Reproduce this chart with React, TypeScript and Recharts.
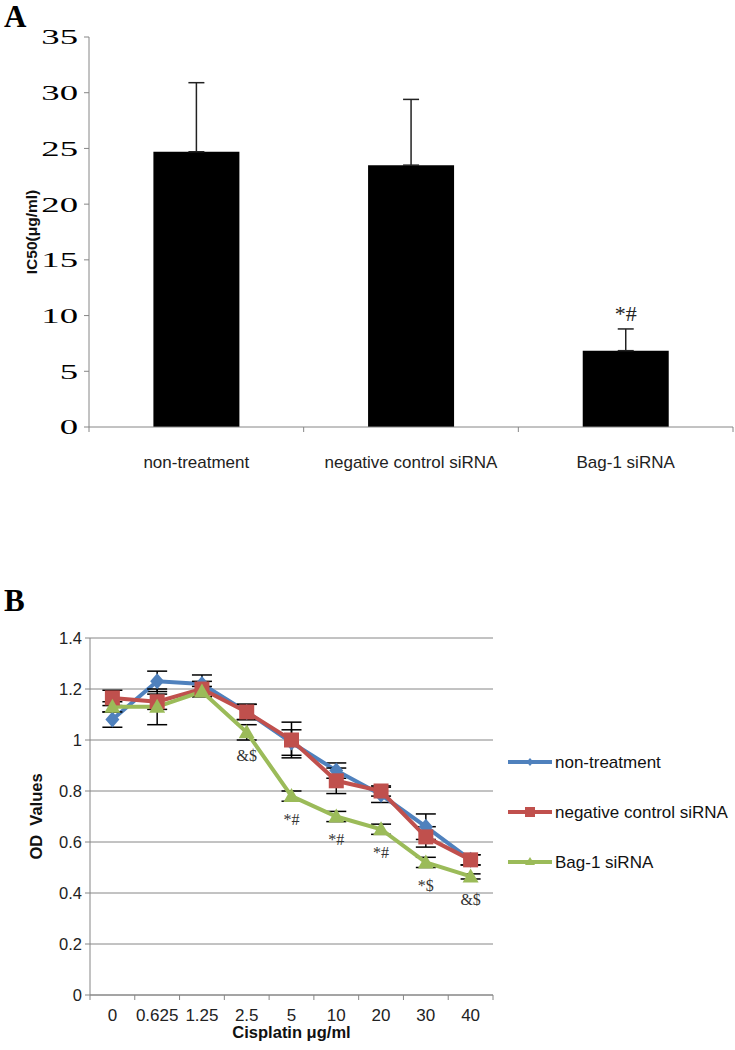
import React from "react";
import {
  BarChart, Bar, LineChart, Line, XAxis, YAxis, CartesianGrid, ErrorBar,
  LabelList, Legend, Label,
} from "recharts";

// ---------- Panel A data ----------
const categoriesA = ["non-treatment", "negative control siRNA", "Bag-1 siRNA"];
const ic50 = [24.7, 23.5, 6.85];
const ic50Err = [6.2, 5.9, 1.95];
const notesA = ["", "", "*#"];
const ticksA = [0, 5, 10, 15, 20, 25, 30, 35];

// ---------- Panel B data ----------
const doses = ["0", "0.625", "1.25", "2.5", "5", "10", "20", "30", "40"];
const nonTreatment = [1.08, 1.23, 1.22, 1.11, 0.99, 0.88, 0.785, 0.66, 0.53];
const negControl = [1.165, 1.15, 1.2, 1.11, 1.0, 0.84, 0.8, 0.62, 0.53];
const bag1 = [1.13, 1.13, 1.19, 1.03, 0.78, 0.7, 0.65, 0.52, 0.465];
const nonTreatmentErr = [0.03, 0.04, 0.035, 0.03, 0.05, 0.03, 0.03, 0.05, 0.02];
const negControlErr = [0.03, 0.03, 0.03, 0.03, 0.07, 0.05, 0.02, 0.04, 0.02];
const bag1Err = [0.02, 0.07, 0.02, 0.03, 0.02, 0.02, 0.02, 0.02, 0.01];
const notesB = ["", "", "", "&$", "*#", "*#", "*#", "*$", "&$"];
const ticksB = [0, 0.2, 0.4, 0.6, 0.8, 1, 1.2, 1.4];
const seriesNames = ["non-treatment", "negative control siRNA", "Bag-1 siRNA"];

const BLUE = "#4F81BD";
const RED = "#C0504D";
const GREEN = "#9BBB59";
const AXIS = "#868686";
const SANS = "'Liberation Sans', Arial, sans-serif";
const SERIF = "'Liberation Serif', 'Times New Roman', serif";

const dataA = categoriesA.map((c, i) => ({
  name: c, value: ic50[i], err: [0, ic50Err[i]], note: notesA[i],
}));

const dataB = doses.map((d, i) => ({
  dose: d,
  nt: nonTreatment[i], ntErr: nonTreatmentErr[i],
  nc: negControl[i], ncErr: negControlErr[i],
  bg: bag1[i], bgErr: bag1Err[i],
  note: notesB[i],
}));

// Category tick with tick marks at category boundaries (Excel style)
const makeBoundaryTick = (fontSize: number, labelDy: number, fill: string) => (props: any) => {
  const { x, y, payload, index, visibleTicksCount } = props;
  const off = payload && payload.offset ? payload.offset : 0;
  const last = index === visibleTicksCount - 1;
  return (
    <g>
      <line x1={x - off} x2={x - off} y1={y} y2={y + 5} stroke={AXIS} strokeWidth={1} />
      {last && <line x1={x + off} x2={x + off} y1={y} y2={y + 5} stroke={AXIS} strokeWidth={1} />}
      <text x={x} y={y + labelDy} textAnchor="middle" dominantBaseline="central"
        fontFamily={SANS} fontSize={fontSize} fill={fill}>
        {payload.value}
      </text>
    </g>
  );
};

// Wide serif tick labels of panel A
const SerifYTick = (props: any) => {
  const { x, y, payload } = props;
  return (
    <text x={x} y={y} textAnchor="end" dominantBaseline="central"
      fontFamily={SERIF} fontSize={21} fill="#000"
      transform={`translate(${x},${y}) scale(1.75,1) translate(${-x},${-y})`}>
      {payload.value}
    </text>
  );
};

const DiamondDot = (p: any) => {
  const { cx, cy, fill } = p;
  if (cx == null || cy == null) return <g />;
  return <path d={`M${cx},${cy - 8} L${cx + 7},${cy} L${cx},${cy + 8} L${cx - 7},${cy} Z`} fill={fill} />;
};
const SquareDot = (p: any) => {
  const { cx, cy, fill } = p;
  if (cx == null || cy == null) return <g />;
  return <rect x={cx - 7.5} y={cy - 7.5} width={15} height={15} fill={fill} />;
};
const TriangleDot = (p: any) => {
  const { cx, cy, fill } = p;
  if (cx == null || cy == null) return <g />;
  return <path d={`M${cx},${cy - 8} L${cx + 8},${cy + 6} L${cx - 8},${cy + 6} Z`} fill={fill} />;
};

const markerFor = (name: string, cx: number, cy: number, color: string) => {
  if (name === seriesNames[0])
    return <path d={`M${cx},${cy - 4} L${cx + 3.5},${cy} L${cx},${cy + 4} L${cx - 3.5},${cy} Z`} fill={color} />;
  if (name === seriesNames[1]) return <rect x={cx - 5} y={cy - 5} width={10} height={10} fill={color} />;
  return <path d={`M${cx},${cy - 5} L${cx + 5},${cy + 3} L${cx - 5},${cy + 3} Z`} fill={color} />;
};

const LegendContent = (props: any) => {
  const payload = [...(props.payload || [])].sort(
    (a: any, b: any) => seriesNames.indexOf(a.value) - seriesNames.indexOf(b.value));
  return (
    <svg width={240} height={130} style={{ overflow: "visible" }}>
      {payload.map((entry: any, i: number) => {
        const cy = 10 + i * 50;
        return (
          <g key={i}>
            <line x1={0} x2={44} y1={cy} y2={cy} stroke={entry.color} strokeWidth={4} />
            {markerFor(entry.value, 22, cy, entry.color)}
            <text x={47} y={cy} dominantBaseline="central" fontFamily={SANS} fontSize={17} fill="#111">
              {entry.value}
            </text>
          </g>
        );
      })}
    </svg>
  );
};

const BarNote = (p: any) => {
  const { x, y, width, height, index, value } = p;
  if (!value) return <g />;
  const ratio = height / ic50[index];
  const topY = y - ic50Err[index] * ratio;
  return (
    <text x={x + width / 2} y={topY - 15} textAnchor="middle" dominantBaseline="central"
      fontFamily={SERIF} fontSize={22} fill="#222">{value}</text>
  );
};

const LineNote = (p: any) => {
  const { x, y, value } = p;
  if (!value) return <g />;
  return (
    <text x={x} y={y + 23} textAnchor="middle" dominantBaseline="central"
      fontFamily={SERIF} fontSize={16} fill="#333">{value}</text>
  );
};

export default function App() {
  return (
    <div style={{ position: "absolute", left: 0, top: 0, width: 735, height: 1050, background: "#fff" }}>
      <div style={{ position: "absolute", left: 4, top: 2, lineHeight: "30px", fontFamily: SERIF, fontWeight: "bold", fontSize: 31 }}>A</div>
      <div style={{ position: "absolute", left: 4, top: 585, lineHeight: "31px", fontFamily: SERIF, fontWeight: "bold", fontSize: 31 }}>B</div>

      <div style={{ position: "absolute", left: 0, top: 0 }}>
        <BarChart width={735} height={480} data={dataA} barCategoryGap="30%"
          margin={{ top: 37, right: 2, left: 0, bottom: 0 }}>
          <XAxis dataKey="name" height={53} tickSize={0} tickMargin={0}
            axisLine={{ stroke: AXIS }} tickLine={false}
            tick={makeBoundaryTick(17, 35, "#222")} interval={0} />
          <YAxis width={89} domain={[0, 35]} ticks={ticksA} allowDataOverflow
            axisLine={{ stroke: AXIS }} tickLine={{ stroke: AXIS }} tickSize={5} tickMargin={6}
            tick={SerifYTick}>
            <Label content={(lp: any) => {
              const vb = lp.viewBox;
              const cx = 31, cy = vb.y + vb.height / 2;
              return (
                <text x={cx} y={cy} transform={`rotate(-90 ${cx} ${cy})`} textAnchor="middle"
                  dominantBaseline="central" fontFamily={SANS} fontWeight="bold" fontSize={15.5} fill="#111">
                  IC50(μg/ml)
                </text>
              );
            }} />
          </YAxis>
          <Bar dataKey="value" fill="#000" isAnimationActive={false}>
            <ErrorBar dataKey="err" width={8} stroke="#222" strokeWidth={1.5} direction="y" />
            <LabelList dataKey="note" content={BarNote} />
          </Bar>
        </BarChart>
      </div>

      <div style={{ position: "absolute", left: 0, top: 600 }}>
        <LineChart width={735} height={450} data={dataB}
          margin={{ top: 38, right: 242, left: 0, bottom: 0 }}>
          <CartesianGrid vertical={false} stroke={AXIS} strokeWidth={1} />
          <XAxis dataKey="dose" scale="band" height={55} tickSize={0} tickMargin={0}
            axisLine={{ stroke: AXIS }} tickLine={false}
            tick={makeBoundaryTick(17, 20, "#222")} interval={0}>
            <Label content={(lp: any) => {
              const vb = lp.viewBox;
              return (
                <text x={vb.x + vb.width / 2} y={vb.y + 37} textAnchor="middle" dominantBaseline="central"
                  fontFamily={SANS} fontWeight="bold" fontSize={16.5} fill="#111">
                  Cisplatin μg/ml
                </text>
              );
            }} />
          </XAxis>
          <YAxis width={90} domain={[0, 1.4]} ticks={ticksB} allowDataOverflow
            axisLine={{ stroke: AXIS }} tickLine={{ stroke: AXIS }} tickSize={5} tickMargin={3}
            tick={{ fontFamily: SANS, fontSize: 16.5, fill: "#222" }}>
            <Label content={(lp: any) => {
              const vb = lp.viewBox;
              const cx = 36, cy = vb.y + vb.height / 2;
              return (
                <text x={cx} y={cy} transform={`rotate(-90 ${cx} ${cy})`} textAnchor="middle"
                  dominantBaseline="central" fontFamily={SANS} fontWeight="bold" fontSize={16.5} fill="#111"
                  style={{ whiteSpace: "pre" }}>
                  {"OD  Values"}
                </text>
              );
            }} />
          </YAxis>
          <Legend layout="vertical" align="right" verticalAlign="top" content={LegendContent}
            wrapperStyle={{ position: "absolute", left: 508, top: 152, width: 0, height: 0, overflow: "visible" }} />
          <Line dataKey="nt" name={seriesNames[0]} stroke={BLUE} fill={BLUE} strokeWidth={4}
            dot={DiamondDot} activeDot={false} isAnimationActive={false}>
            <ErrorBar dataKey="ntErr" width={10} stroke="#000" strokeWidth={1.5} direction="y" />
          </Line>
          <Line dataKey="nc" name={seriesNames[1]} stroke={RED} fill={RED} strokeWidth={4}
            dot={SquareDot} activeDot={false} isAnimationActive={false}>
            <ErrorBar dataKey="ncErr" width={10} stroke="#000" strokeWidth={1.5} direction="y" />
          </Line>
          <Line dataKey="bg" name={seriesNames[2]} stroke={GREEN} fill={GREEN} strokeWidth={4}
            dot={TriangleDot} activeDot={false} isAnimationActive={false}>
            <ErrorBar dataKey="bgErr" width={10} stroke="#000" strokeWidth={1.5} direction="y" />
            <LabelList dataKey="note" content={LineNote} />
          </Line>
        </LineChart>
      </div>
    </div>
  );
}
